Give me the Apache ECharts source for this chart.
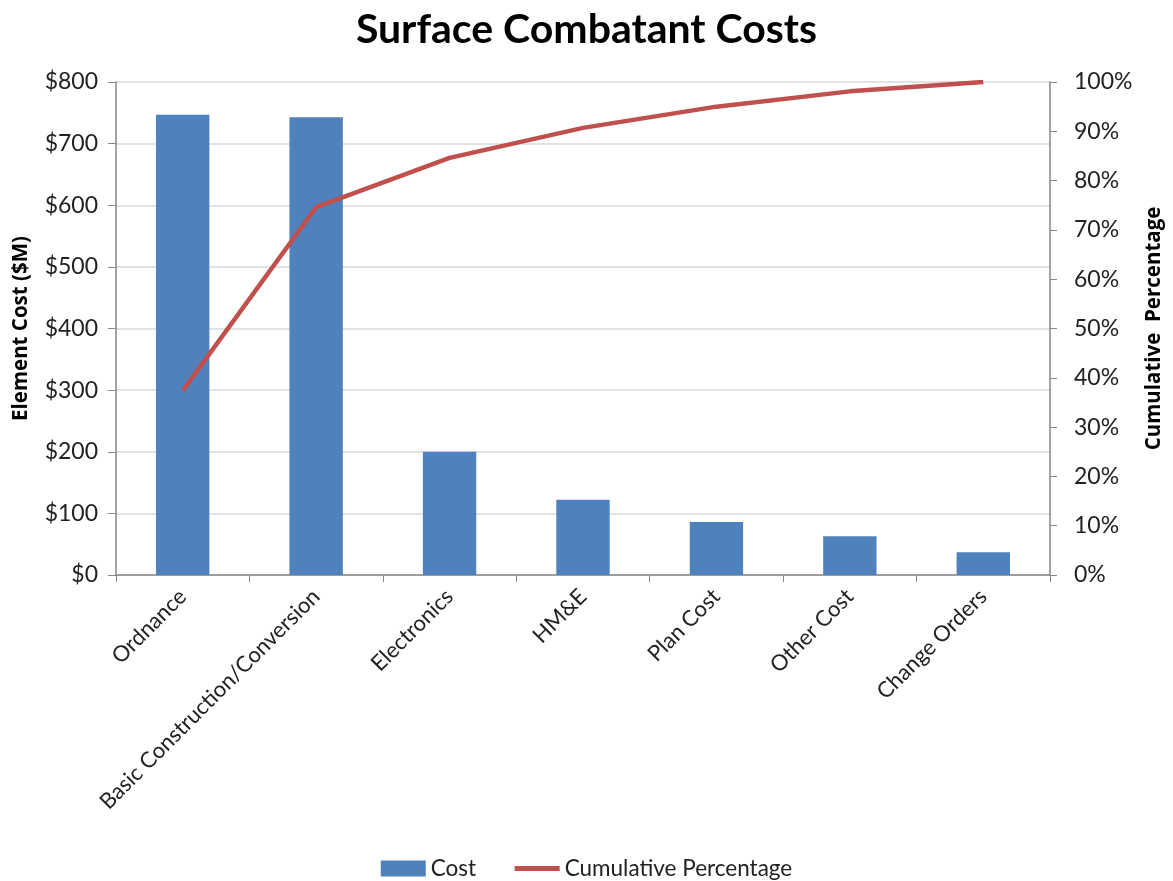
<!DOCTYPE html>
<html>
<head>
<meta charset="utf-8">
<script src="https://cdn.jsdelivr.net/npm/echarts@6/dist/echarts.min.js"></script>
<style>html,body{margin:0;padding:0;background:#fff}#c{width:1173px;height:881px}</style>
</head>
<body>
<div id="c"></div>
<script>
const categories = ['Ordnance','Basic Construction/Conversion','Electronics','HM&E','Plan Cost','Other Cost','Change Orders'];
const costValues = [747, 743, 200, 122, 86, 63, 37];
const cumulativePct = [37.4, 74.6, 84.6, 90.7, 95.0, 98.1, 100];
const costTicks = [0, 100, 200, 300, 400, 500, 600, 700, 800];
const pctTicks = [0,10,20,30,40,50,60,70,80,90,100];

const FONT = 'Lato, "Open Sans", sans-serif';
const chart = echarts.init(document.getElementById('c'));
chart.setOption({
  animation: false,
  textStyle: { fontFamily: FONT },
  title: {
    text: 'Surface Combatant Costs',
    left: 'center', top: 4,
    textStyle: { fontFamily: FONT, fontSize: 41, fontWeight: 'bold', color: '#000' }
  },
  legend: {
    bottom: -4, left: 'center',
    itemWidth: 45, itemHeight: 16, itemGap: 36,
    textStyle: { fontFamily: FONT, fontSize: 22.5, color: '#222' },
    data: [
      { name: 'Cost', icon: 'rect' },
      { name: 'Cumulative Percentage', itemStyle: { opacity: 0 }, lineStyle: { width: 5, color: '#c0504d' } }
    ]
  },
  grid: { left: 116, right: 122, top: 82, bottom: 306 },
  xAxis: {
    type: 'category', data: categories, boundaryGap: true,
    axisLine: { lineStyle: { color: '#868686', width: 1.5 } },
    axisTick: { show: true, length: 7, lineStyle: { color: '#868686' } },
    axisLabel: { rotate: 45, margin: 18, fontSize: 22, color: '#222', fontFamily: FONT, interval: 0 }
  },
  yAxis: [
    {
      type: 'value', min: 0, max: 800, interval: 100,
      name: 'Element Cost ($M)', nameLocation: 'middle', nameGap: 84, nameRotate: 90,
      nameTextStyle: { fontSize: 20.5, fontWeight: 'bold', color: '#000', fontFamily: '"Open Sans", sans-serif' },
      axisLine: { show: true, lineStyle: { color: '#868686', width: 1.5 } },
      axisTick: { show: true, length: 8, lineStyle: { color: '#868686' } },
      axisLabel: { fontSize: 23, color: '#222', margin: 18, fontFamily: FONT,
        formatter: v => costTicks.indexOf(v) >= 0 ? '$' + v : '' },
      splitLine: { lineStyle: { color: '#d9d9d9', width: 1.5 } }
    },
    {
      type: 'value', min: 0, max: 100, interval: 10, position: 'right',
      name: 'Cumulative  Percentage', nameLocation: 'middle', nameGap: 94, nameRotate: 90,
      nameTextStyle: { fontSize: 20.5, fontWeight: 'bold', color: '#000', fontFamily: '"Open Sans", sans-serif' },
      axisLine: { show: true, lineStyle: { color: '#868686', width: 1.5 } },
      axisTick: { show: true, length: 7, lineStyle: { color: '#868686' } },
      axisLabel: { fontSize: 23, color: '#222', margin: 24, fontFamily: FONT,
        formatter: v => pctTicks.indexOf(v) >= 0 ? v + '%' : '' },
      splitLine: { show: false }
    }
  ],
  series: [
    {
      name: 'Cost', type: 'bar', data: costValues, yAxisIndex: 0,
      barWidth: '40%', itemStyle: { color: '#4f81bd' }
    },
    {
      name: 'Cumulative Percentage', type: 'line', data: cumulativePct, yAxisIndex: 1,
      symbol: 'none', lineStyle: { color: '#c0504d', width: 4.5 }, itemStyle: { color: '#c0504d' }
    }
  ]
});
</script>
</body>
</html>
